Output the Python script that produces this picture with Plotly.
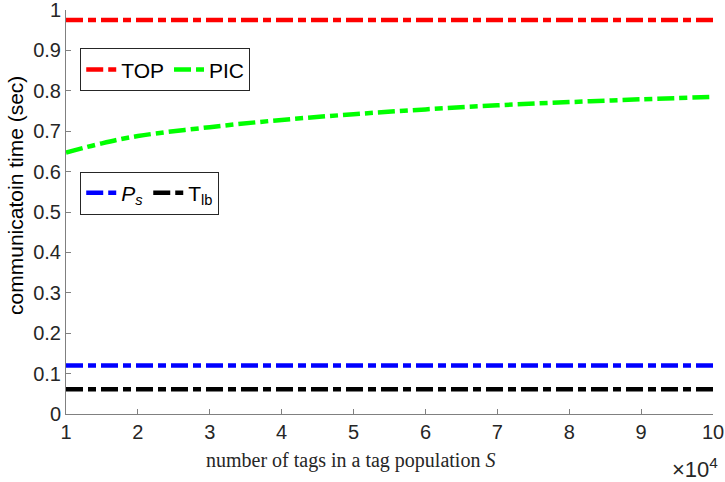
import plotly.graph_objects as go

S = [1, 1.5, 2, 3, 4, 5, 6, 7, 8, 9, 10]
top = [0.975] * len(S)
pic = [0.647, 0.670, 0.688, 0.710, 0.728, 0.742, 0.754, 0.764, 0.772, 0.779, 0.785]
ps = [0.120] * len(S)
tlb = [0.061] * len(S)

xticks = [1, 2, 3, 4, 5, 6, 7, 8, 9, 10]
yticks = [0, 0.1, 0.2, 0.3, 0.4, 0.5, 0.6, 0.7, 0.8, 0.9, 1]
ytext = ["0", "0.1", "0.2", "0.3", "0.4", "0.5", "0.6", "0.7", "0.8", "0.9", "1"]

dash = "17px,5px,8px,5px"
W = 4.5

fig = go.Figure()
fig.add_trace(go.Scatter(x=S, y=top, mode="lines", name="TOP",
                         line=dict(color="#ff0000", width=W, dash=dash), legend="legend"))
fig.add_trace(go.Scatter(x=S, y=pic, mode="lines", name="PIC", line_shape="spline",
                         line=dict(color="#00ff00", width=W, dash=dash), legend="legend"))
fig.add_trace(go.Scatter(x=S, y=ps, mode="lines", name="<i>P<sub>s</sub></i>",
                         line=dict(color="#0000ff", width=W, dash=dash), legend="legend2"))
fig.add_trace(go.Scatter(x=S, y=tlb, mode="lines", name="T<sub>lb</sub>",
                         line=dict(color="#000000", width=W, dash=dash), legend="legend2"))

axis_common = dict(showgrid=False, zeroline=False, showline=True, linecolor="#808080",
                   linewidth=1, ticks="inside", ticklen=5, tickcolor="#808080", automargin=False,
                   ticklabeloverflow="allow",
                   tickfont=dict(family="Liberation Sans, Arial", size=20, color="#262626"))

fig.update_xaxes(range=[1, 10], tickvals=xticks, ticktext=[str(t) for t in xticks], **axis_common)
fig.update_yaxes(range=[0, 1], tickvals=yticks, ticktext=ytext, **axis_common)

legend_style = dict(orientation="h", bgcolor="white", bordercolor="#262626", borderwidth=1,
                    font=dict(family="Liberation Sans, Arial", size=21, color="#000000"),
                    xanchor="left", yanchor="top", itemwidth=30, tracegroupgap=0)

fig.update_layout(
    width=725, height=482,
    margin=dict(l=66, r=12, t=10, b=68),
    plot_bgcolor="white", paper_bgcolor="white",
    showlegend=True,
    legend=dict(x=0.022, y=0.905, **legend_style),
    legend2=dict(x=0.022, y=0.60, **legend_style),
)

# axis titles (placed as in the reference, which are not centred on the axes)
fig.add_annotation(text="number of tags in a tag population <i>S</i>", xref="paper", yref="paper",
                   x=0.439, y=-0.114, xanchor="center", yanchor="middle", showarrow=False,
                   font=dict(family="Liberation Serif, Times New Roman", size=20, color="#262626"))
fig.add_annotation(text="communicatoin time (sec)", xref="paper", yref="paper",
                   x=-0.079, y=0.542, xanchor="center", yanchor="middle", showarrow=False,
                   textangle=-90,
                   font=dict(family="Liberation Sans, Arial", size=21, color="#000000"))
fig.add_annotation(text="×10<sup>4</sup>", xref="paper", yref="paper", x=1.011, y=-0.134,
                   xanchor="right", yanchor="middle", showarrow=False,
                   font=dict(family="Liberation Sans, Arial", size=22, color="#262626"))

fig.write_html("out.html", post_script="document.body.style.margin='0';",
               config={"displayModeBar": False})
